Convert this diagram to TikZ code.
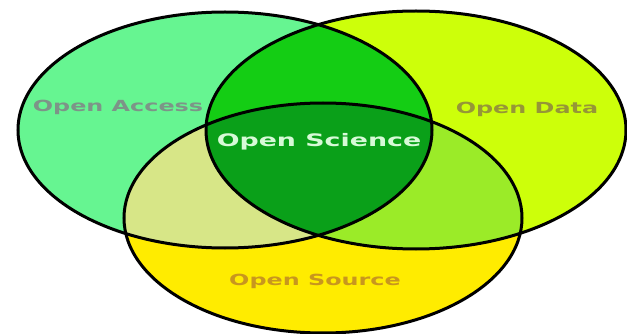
\documentclass[tikz,border=0pt]{standalone}
\usepackage{fontspec}
\newfontfamily\vennfont{DejaVu Sans}[FakeStretch=1.56]

\definecolor{accesscol}{RGB}{102,245,145}
\definecolor{datacol}{RGB}{205,255,10}
\definecolor{sourcecol}{RGB}{255,236,0}
\definecolor{accdatcol}{RGB}{20,205,20}
\definecolor{accsrccol}{RGB}{215,230,135}
\definecolor{datsrccol}{RGB}{155,235,40}
\definecolor{sciencecol}{RGB}{10,160,25}

\newcommand{\accesspath}{(225,130) ellipse [x radius=207pt, y radius=118pt]}
\newcommand{\datapath}{(416,130) ellipse [x radius=210pt, y radius=119pt]}
\newcommand{\sourcepath}{(323,218) ellipse [x radius=199pt, y radius=115pt]}

\tikzset{
    rim/.style={draw=black, line width=3pt},
    vennlabel/.style={font=\vennfont\bfseries\fontsize{15.3}{18}\selectfont, anchor=base, inner sep=0pt},
}

\begin{document}
\begin{tikzpicture}[x=1pt, y=-1pt]
            \useasboundingbox[fill=white] (0, 0) rectangle (627, 334);
            % single sets
            \fill[accesscol] \accesspath;
            \fill[datacol] \datapath;
            \fill[sourcecol] \sourcepath;
            % pairs
            \begin{scope}
                \clip \accesspath;
                \fill[accdatcol] \datapath;
                \fill[accsrccol] \sourcepath;
            \end{scope}
            \begin{scope}
                \clip \datapath;
                \fill[datsrccol] \sourcepath;
            \end{scope}
            % all three
            \begin{scope}
                \clip \accesspath;
                \clip \datapath;
                \fill[sciencecol] \sourcepath;
            \end{scope}
            \draw[rim] \accesspath;
            \draw[rim] \datapath;
            \draw[rim] \sourcepath;
            \node[vennlabel, text={rgb,255:red,125;green,148;blue,136}] (access) at (118, 112) {Open Access};
            \node[vennlabel, text={rgb,255:red,150;green,150;blue,55}] (data) at (527, 114) {Open Data};
            \node[vennlabel, text={rgb,255:red,215;green,250;blue,215}, font=\vennfont\bfseries\fontsize{17.2}{20}\selectfont] (science) at (319, 147) {Open Science};
            \node[vennlabel, text={rgb,255:red,200;green,150;blue,30}] (source) at (315, 285) {Open Source};
\end{tikzpicture}
\end{document}
